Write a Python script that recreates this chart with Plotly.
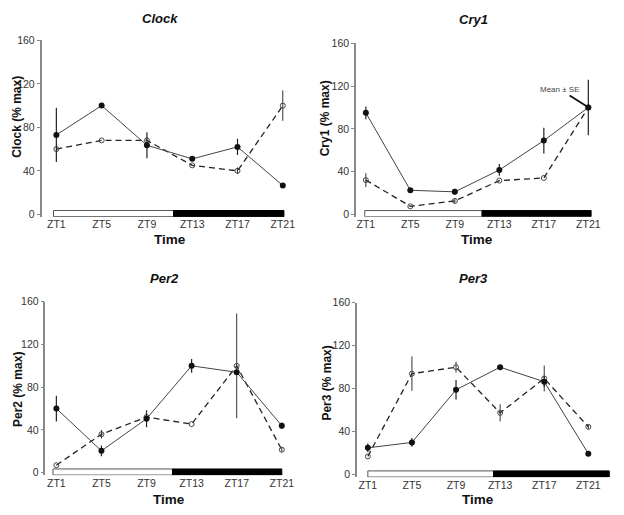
import plotly.graph_objects as go

W, H = 624, 515

zt_labels = ["ZT1", "ZT5", "ZT9", "ZT13", "ZT17", "ZT21"]
zt_hours = [1, 5, 9, 13, 17, 21]

genes = ["Clock", "Cry1", "Per2", "Per3"]

clock_filled = [73, 100, 63.5, 51, 62, 26.5]
clock_filled_se = [25, 0, 12, 0, 7.5, 1.5]
clock_open = [60, 68, 68, 45, 40, 100]
clock_open_se = [0, 0, 0, 0, 3, 14]

cry1_filled = [95, 22.5, 21, 41.5, 69, 100]
cry1_filled_se = [6, 0, 3, 5.5, 12, 26]
cry1_open = [32, 7.5, 12.5, 31.5, 34, 100]
cry1_open_se = [6.5, 0, 2, 0, 0, 0]

per2_filled = [60, 20.5, 50.5, 100, 94, 44]
per2_filled_se = [12, 5, 8, 6.5, 0, 3]
per2_open = [7, 36, 52, 45.5, 100, 21.5]
per2_open_se = [0, 4, 0, 0, 49, 2]

per3_filled = [25, 30, 79, 100, 86.5, 19.5]
per3_filled_se = [4, 4, 9, 0, 5, 2]
per3_open = [17, 94, 100, 57.5, 89.5, 44.5]
per3_open_se = [0, 16, 5, 8, 12, 2]

filled = [clock_filled, cry1_filled, per2_filled, per3_filled]
filled_se = [clock_filled_se, cry1_filled_se, per2_filled_se, per3_filled_se]
opened = [clock_open, cry1_open, per2_open, per3_open]
opened_se = [clock_open_se, cry1_open_se, per2_open_se, per3_open_se]

# light/dark bar boundaries (ZT units): start, lights-off, end
light_dark = [(0.75, 11.35, 21.1), (0.9, 11.45, 21.25), (0.7, 11.3, 21), (1, 12.4, 22.9)]
BAR_LO, BAR_HI = -2.2, 3.5
Y_LO = -2.4

# panel geometry in screen pixels: axis_x, zt1_x, zt21_x, right_x, y0_px, y160_px
panels = [
    (42, 57, 286, 292, 212, 35),
    (360, 370, 595, 600, 212, 38),
    (46, 57, 285, 290, 475, 301),
    (361, 372, 595, 618, 477, 302),
]
title_pos = [(162, 13), (479, 14), (166, 277), (479, 277)]
ytitle_pos = [(17, 113), (329, 114), (18, 390), (331, 384)]
time_y = [238, 238, 502, 502]

TICKFONT = "Liberation Sans, Arial, sans-serif"


def px(v):
    return v / W


def py(v):
    return 1 - v / H


fig = go.Figure()
layout = dict(
    width=W, height=H, margin=dict(l=0, r=0, t=0, b=0),
    paper_bgcolor="white", plot_bgcolor="white", showlegend=False,
    font=dict(family="Liberation Sans, Arial, sans-serif", color="#333"),
)
annotations = []
shapes = []

for i, g in enumerate(genes):
    ax_x, z1, z21, rx, y0p, y160p = panels[i]
    ppu = (z21 - z1) / 20.0
    lo = 1 - (z1 - ax_x) / ppu
    hi = 1 + (rx - z1) / ppu
    ppy = (y0p - y160p) / 160.0
    ybot = y0p - Y_LO * ppy
    xa = "xaxis" if i == 0 else f"xaxis{i+1}"
    ya = "yaxis" if i == 0 else f"yaxis{i+1}"
    xr = "x" if i == 0 else f"x{i+1}"
    yr = "y" if i == 0 else f"y{i+1}"
    layout[xa] = dict(
        domain=[px(ax_x), px(rx)], range=[lo, hi], anchor=yr,
        tickmode="array", tickvals=zt_hours, ticktext=zt_labels,
        showline=False, showgrid=False, zeroline=False, ticks="",
        tickfont=dict(size=10.5, color="#333", family=TICKFONT), fixedrange=True,
    )
    layout[ya] = dict(
        domain=[py(ybot), py(y160p)], range=[Y_LO, 160], anchor=xr,
        tickvals=[0, 40, 80, 120, 160], showline=True, linecolor="#888",
        linewidth=1.5, ticks="outside", ticklen=3, tickcolor="#888",
        showgrid=False, zeroline=False,
        tickfont=dict(size=10.5, color="#333", family=TICKFONT),
        fixedrange=True,
    )
    fig.add_trace(go.Scatter(
        x=zt_hours, y=opened[i], xaxis=xr, yaxis=yr, mode="lines+markers",
        line=dict(color="#222", width=1.3, dash="6px,4px"),
        marker=dict(symbol="circle-open", size=5, color="#444", line=dict(width=1)),
        error_y=dict(type="data", array=opened_se[i], width=0, thickness=1, color="#333"),
        cliponaxis=False,
    ))
    fig.add_trace(go.Scatter(
        x=zt_hours, y=filled[i], xaxis=xr, yaxis=yr, mode="lines+markers",
        line=dict(color="#444", width=1),
        marker=dict(symbol="circle", size=6, color="#111"),
        error_y=dict(type="data", array=filled_se[i], width=0, thickness=1.2, color="#222"),
        cliponaxis=False,
    ))
    s, m, e = light_dark[i]
    shapes.append(dict(type="rect", xref=xr, yref=yr, x0=s, x1=m, y0=BAR_LO, y1=BAR_HI,
                       fillcolor="white", line=dict(color="#555", width=1), layer="above"))
    shapes.append(dict(type="rect", xref=xr, yref=yr, x0=m, x1=e, y0=BAR_LO, y1=BAR_HI,
                       fillcolor="#000", line=dict(color="#000", width=1), layer="above"))
    tx, ty = title_pos[i]
    annotations.append(dict(text=f"<b><i>{g}</i></b>", x=px(tx), y=py(ty),
                            xref="paper", yref="paper", showarrow=False,
                            xanchor="center", yanchor="middle",
                            font=dict(size=13, color="#111")))
    yx, yy = ytitle_pos[i]
    annotations.append(dict(text=f"<b>{g} (% max)</b>", x=px(yx), y=py(yy),
                            xref="paper", yref="paper",
                            xanchor="center", yanchor="middle",
                            showarrow=False, textangle=-90, font=dict(size=12, color="#111")))
    annotations.append(dict(text="<b>Time</b>", x=px((z1 + z21) / 2), y=py(time_y[i]),
                            xref="paper", yref="paper", showarrow=False,
                            xanchor="center", yanchor="middle",
                            font=dict(size=13.5, color="#111")))

annotations.append(dict(text="Mean ± SE", x=21, y=100, xref="x2", yref="y2",
                        ax=-28, ay=-18, showarrow=True, arrowhead=0, arrowwidth=1.8,
                        arrowcolor="#111", font=dict(size=8, color="#444", family=TICKFONT),
                        standoff=2))

layout["annotations"] = annotations
layout["shapes"] = shapes
fig.update_layout(**layout)
fig.write_html("out.html", config={"displayModeBar": False},
               post_script="document.body.style.margin='0';document.body.style.overflow='hidden';")
